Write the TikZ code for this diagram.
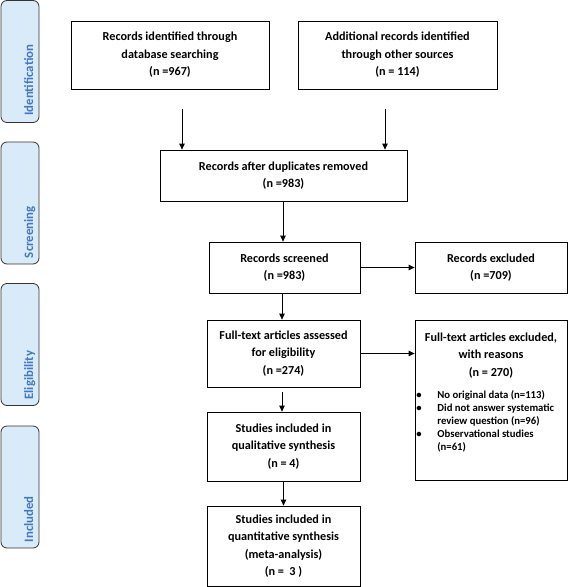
\documentclass[tikz,border=0pt]{standalone}
\usepackage{fontspec}
\setmainfont{Carlito}
\usepackage{xcolor}
\usetikzlibrary{
    arrows.meta,
    positioning
}
\definecolor{phasefill}{HTML}{D9EAF9}
\definecolor{phasetext}{HTML}{4378C0}

\begin{document}
\begin{tikzpicture}[x=1pt,y=-1pt,->,>={Triangle[length=6pt,width=5.5pt]},line width=0.8pt,
    box/.style={draw,->,shape=rectangle,align=center,inner sep=2pt,
        font=\fontsize{12.2}{17.5}\selectfont\bfseries},
    phase/.style={draw=black!80,fill=phasefill,rounded corners=6pt,minimum width=38pt,
        minimum height=122pt},
    phaselabel/.style={rotate=90,anchor=base west,inner sep=0pt,text=phasetext,
        font=\fontsize{12.8}{15}\selectfont\bfseries}]
    \useasboundingbox (0,0) rectangle (568,587);
    % phases on the left
    \node[phase] (id) at (20, 61.5) {};
    \node[phase] (sc) at (20, 203) {};
    \node[phase] (el) at (20, 344.5) {};
    \node[phase] (in) at (20, 487) {};
    \node[phaselabel] (idl) at ([xshift=13pt,yshift=7pt]id.south) {Identification};
    \node[phaselabel] (scl) at ([xshift=13pt,yshift=6pt]sc.south) {Screening};
    \node[phaselabel] (ell) at ([xshift=13pt,yshift=6pt]el.south) {Eligibility};
    \node[phaselabel] (inl) at ([xshift=13pt,yshift=6pt]in.south) {Included};
    % boxes
    \node[box, minimum width=198pt, minimum height=68pt] (db) at (170, 55)
        {Records identified through\\database searching\\(n =967)};
    \node[box, minimum width=199pt, minimum height=68pt] (oth) at (397.5, 55)
        {Additional records identified\\through other sources\\(n = 114)};
    \node[box, minimum width=247pt, minimum height=51pt] (dup) at (283.5, 175.5)
        {Records after duplicates removed\\(n =983)};
    \node[box, minimum width=151pt, minimum height=51pt] (scr) at (284.5, 267.5)
        {Records screened\\(n =983)};
    \node[box, minimum width=152pt, minimum height=51pt] (rex) at (491, 267.5)
        {Records excluded\\(n =709)};
    \node[box, minimum width=153pt, minimum height=67pt] (fta) at (283.5, 353.5)
        {Full-text articles assessed\\for eligibility\\(n =274)};
    \node[box, minimum width=152pt, minimum height=160pt, anchor=north] (fex) at (491, 320)
        {};
    \node[font=\fontsize{12.2}{17.5}\selectfont\bfseries, align=center, below=9pt of fex.north]
        (fext) {Full-text articles excluded,\\with reasons\\(n = 270)};
    \node[font=\fontsize{10.7}{13}\selectfont\bfseries, align=left, anchor=north west, inner sep=0pt]
        (fexl) at (416, 390) {\makebox[21pt][l]{\textbullet}No original data (n=113)\\
        \makebox[21pt][l]{\textbullet}Did not answer systematic\\
        \hspace{21pt}review question (n=96)\\
        \makebox[21pt][l]{\textbullet}Observational studies\\
        \hspace{21pt}(n=61)};
    \node[box, minimum width=153pt, minimum height=69pt] (qual) at (283.5, 446.5)
        {Studies included in\\qualitative synthesis\\(n = 4)};
    \node[box, minimum width=153pt, minimum height=80pt] (quant) at (283.5, 546)
        {Studies included in\\quantitative synthesis\\(meta-analysis)\\(n =~~3 )};
    % arrows
    \draw[shorten <=20pt] ([xshift=12pt]db.south) -- ([xshift=12pt]db.south |- dup.north);
    \draw[shorten <=20pt] ([xshift=-12.5pt]oth.south) -- ([xshift=-12.5pt]oth.south |- dup.north);
    \draw (dup.south -| scr.north) ++(-1.5,0) -- ([xshift=-1.5pt]scr.north);
    \draw (scr.east) -- (rex.west);
    \draw ([xshift=-2.5pt]scr.south) -- ([xshift=-2.5pt]scr.south |- fta.north);
    \draw (fta.east) -- (fta.east -| fex.west);
    \draw[shorten <=5pt] ([xshift=-1.5pt]fta.south) -- ([xshift=-1.5pt]qual.north);
    \draw (qual.south) -- (quant.north);
\end{tikzpicture}
\end{document}
